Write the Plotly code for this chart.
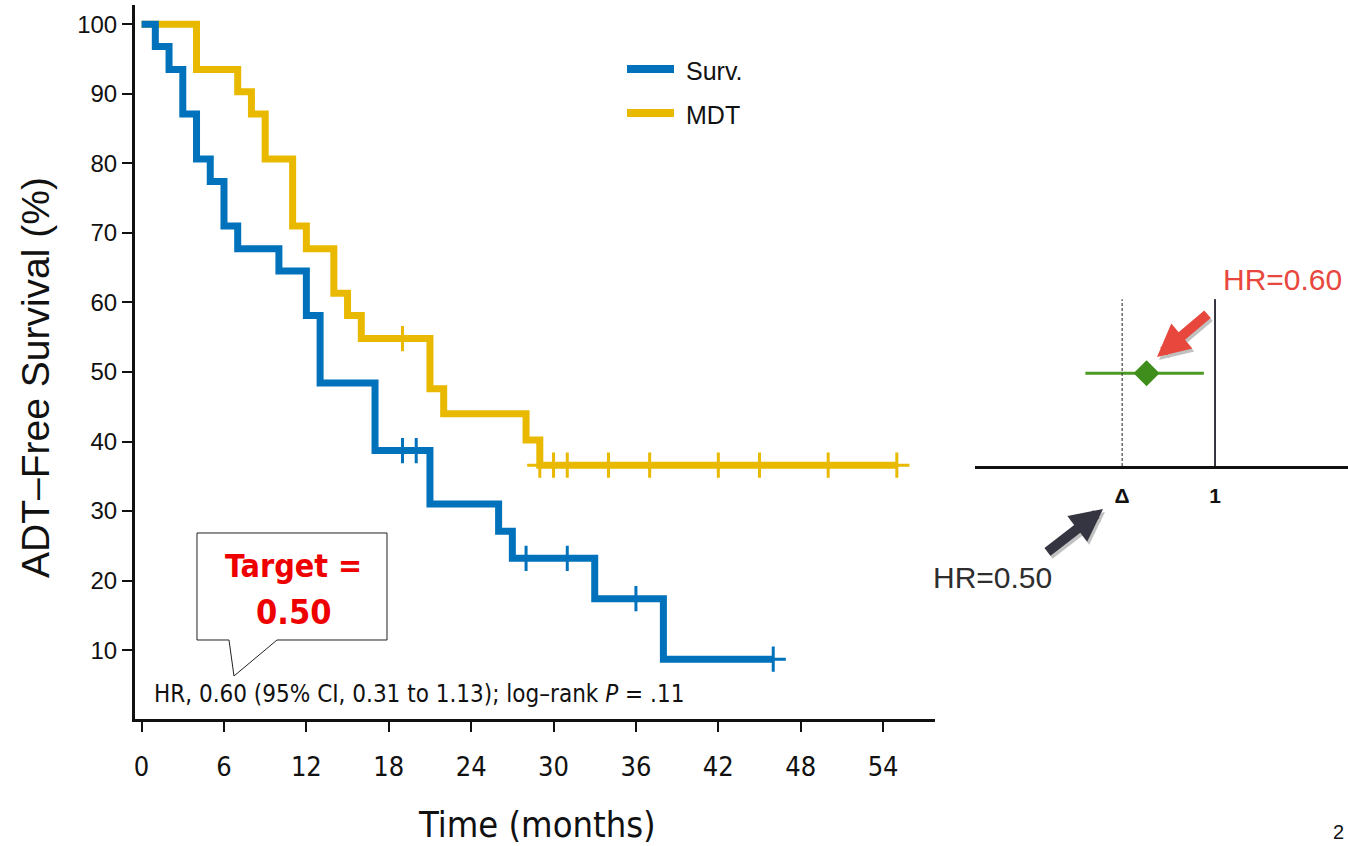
import plotly.graph_objects as go

# ---- Kaplan-Meier data (months, % ADT-free) ----
surv_time = [0, 1, 2, 3, 4, 5, 6, 7, 10, 12, 13, 17, 21, 26, 27, 33, 38, 46]
surv_pct = [100, 96.8, 93.5, 87.1, 80.6, 77.4, 71.0, 67.7, 64.5, 58.1, 48.4, 38.7,
            31.0, 27.1, 23.2, 17.4, 8.7, 8.7]
surv_censor = [19, 20, 28, 31, 36, 46]

mdt_time = [0, 4, 7, 8, 9, 11, 12, 14, 15, 16, 21, 22, 28, 29, 55]
mdt_pct = [100, 93.5, 90.3, 87.1, 80.6, 71.0, 67.7, 61.3, 58.1, 54.8, 47.6, 44.0,
           40.2, 36.6, 36.6]
mdt_censor = [19, 29, 30, 31, 34, 37, 42, 45, 50, 55]

x_ticks = [0, 6, 12, 18, 24, 30, 36, 42, 48, 54]
y_ticks = [10, 20, 30, 40, 50, 60, 70, 80, 90, 100]

# ---- hazard-ratio schematic ----
hr_observed = 0.60
hr_target = 0.50
hr_null = 1.0
ci_drawn = [0.38, 0.92]

BLUE = "#0072BB"
GOLD = "#E9B900"
NARROW = "DejaVu Sans Condensed, Liberation Sans Narrow, Roboto, sans-serif"
ARIAL = "Liberation Sans, Arial, Helvetica, sans-serif"

W, H = 1348, 846


def px(x):
    return x / W


def py(y):
    return 1 - y / H


def narrow(size, color="#111", weight="normal"):
    return dict(family=NARROW, size=size, color=color, weight=weight)


def step_value(times, values, t):
    """Value of the right-continuous step curve at time t."""
    v = values[0]
    for ti, vi in zip(times, values):
        if ti <= t:
            v = vi
    return v


def label(text, x, y, font, **kw):
    d = dict(text=text, xref="paper", yref="paper", x=px(x), y=py(y),
             xanchor="center", yanchor="middle", showarrow=False, font=font)
    d.update(kw)
    return d


fig = go.Figure()

for times, pct, cens, color, name in [
    (mdt_time, mdt_pct, mdt_censor, GOLD, "MDT"),
    (surv_time, surv_pct, surv_censor, BLUE, "Surv."),
]:
    fig.add_trace(go.Scatter(
        x=times, y=pct, mode="lines", line=dict(color=color, width=7, shape="hv"),
        name=name, showlegend=False, hoverinfo="skip"))
    fig.add_trace(go.Scatter(
        x=cens, y=[step_value(times, pct, c) for c in cens], mode="markers",
        marker=dict(symbol="cross-thin", size=18, line=dict(color=color, width=3)),
        showlegend=False, hoverinfo="skip"))

# forest-style schematic on the right
fig.add_trace(go.Scatter(
    x=ci_drawn, y=[0.45, 0.45], mode="lines", line=dict(color="#4C9A23", width=3),
    xaxis="x2", yaxis="y2", showlegend=False, hoverinfo="skip"))
fig.add_trace(go.Scatter(
    x=[hr_observed], y=[0.45], mode="markers",
    marker=dict(symbol="diamond", size=20, color="#3F8E1B"),
    xaxis="x2", yaxis="y2", showlegend=False, hoverinfo="skip"))
fig.add_trace(go.Scatter(
    x=[hr_target, hr_target], y=[0, 0.81], mode="lines",
    line=dict(color="#444444", width=1.2, dash="3px,2px"),
    xaxis="x2", yaxis="y2", showlegend=False, hoverinfo="skip"))
fig.add_trace(go.Scatter(
    x=[hr_null, hr_null], y=[0, 0.81], mode="lines",
    line=dict(color="#33333d", width=2),
    xaxis="x2", yaxis="y2", showlegend=False, hoverinfo="skip"))

shapes = []
annotations = []

# legend
for yy, color, text in [(69, BLUE, "Surv."), (113, GOLD, "MDT")]:
    shapes.append(dict(type="line", xref="paper", yref="paper",
                       x0=px(627), x1=px(674), y0=py(yy), y1=py(yy),
                       line=dict(color=color, width=8)))
    annotations.append(label(text, 684, yy + 2, dict(family=ARIAL, size=25, color="#111"),
                             xanchor="left"))

# callout box
box = [(197, 533), (387, 533), (387, 640), (277, 640), (234, 676), (229, 640), (197, 640)]
path = "M " + " L ".join(f"{px(x):.5f},{py(y):.5f}" for x, y in box) + " Z"
shapes.append(dict(type="path", xref="paper", yref="paper", path=path,
                   line=dict(color="#222", width=1), fillcolor="white"))
annotations.append(label("Target =", 293, 566, narrow(32, "#EE0000", "bold")))
annotations.append(label("0.50", 293, 612, narrow(34, "#EE0000", "bold")))

annotations.append(label("HR, 0.60 (95% CI, 0.31 to 1.13); log\u2013rank <i>P</i> = .11",
                         152, 694, narrow(24), xanchor="left"))

# axis titles
annotations.append(label("ADT\u2013Free Survival (%)", 35, 378,
                         dict(family=ARIAL, size=39, color="#111"), textangle=-90))
annotations.append(label("Time (months)", 537, 824, narrow(36)))

# HR labels and arrows
annotations.append(label("HR=0.60", 1282, 279, dict(family=ARIAL, size=30, color="#E8473D")))
annotations.append(label("HR=0.50", 992, 577, dict(family=ARIAL, size=30, color="#2E2E2E")))
for (tx, ty), (sx, sy), color in [
    ((1157, 357), (1209, 313), "#E8473D"),
    ((1103, 509), (1046, 553), "#353542"),
]:
    # soft shadow first, arrow on top
    annotations.append(dict(text="", xref="paper", yref="paper", x=px(tx + 2), y=py(ty + 3),
                            ax=sx - tx, ay=sy - ty, showarrow=True, arrowhead=2,
                            arrowsize=0.65, arrowwidth=10, arrowcolor="rgba(120,120,120,0.45)"))
    annotations.append(dict(text="", xref="paper", yref="paper", x=px(tx), y=py(ty),
                            ax=sx - tx, ay=sy - ty, showarrow=True, arrowhead=2,
                            arrowsize=0.65, arrowwidth=10, arrowcolor=color))

annotations.append(label("2", 1338, 832, dict(family=ARIAL, size=20, color="#111")))

fig.update_layout(
    width=W, height=H, margin=dict(l=0, r=0, t=0, b=0), autosize=False,
    paper_bgcolor="white", plot_bgcolor="white",
    shapes=shapes, annotations=annotations,
    xaxis=dict(domain=[px(135), px(935)], range=[-0.48, 57.78], tickvals=x_ticks,
               ticks="outside", ticklen=10, tickwidth=2, tickcolor="#111",
               ticklabelstandoff=12,
               showline=True, linewidth=3, linecolor="#111", showgrid=False, zeroline=False,
               tickfont=narrow(27)),
    yaxis=dict(domain=[py(719), py(5)], range=[0.1, 102.76], tickvals=y_ticks,
               ticks="outside", ticklen=10, tickwidth=2, tickcolor="#111",
               showline=True, linewidth=3, linecolor="#111", showgrid=False, zeroline=False,
               tickfont=dict(family=ARIAL, size=24, color="#111")),
    xaxis2=dict(domain=[px(975), 1.0], type="log", range=[-0.778, 0.431], anchor="y2",
                tickvals=[hr_target, hr_null], ticktext=["<b>\u0394</b>", "<b>1</b>"],
                ticks="outside", ticklen=9, tickcolor="rgba(0,0,0,0)",
                showline=True, linewidth=3, linecolor="#111", showgrid=False, zeroline=False,
                tickfont=dict(family=ARIAL, size=21, color="#111")),
    yaxis2=dict(domain=[py(466), py(260)], range=[0, 1], anchor="x2", visible=False),
)

fig.write_html("out.html")
